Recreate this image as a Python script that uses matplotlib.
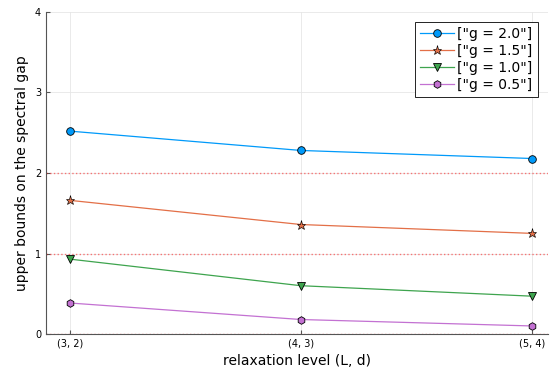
import matplotlib
matplotlib.use("Agg")
import matplotlib.pyplot as plt

levels = ["(3, 2)", "(4, 3)", "(5, 4)"]
labels = ['["g = 2.0"]', '["g = 1.5"]', '["g = 1.0"]', '["g = 0.5"]']
g20 = [2.52, 2.28, 2.18]
g15 = [1.66, 1.36, 1.25]
g10 = [0.93, 0.60, 0.47]
g05 = [0.385, 0.18, 0.10]
hlines = [0, 1, 2]

colors = ["#009AFA", "#E36F47", "#3EA44E", "#C371D2"]
markers = ["o", "*", "v", "h"]
msizes = [5.5, 6.5, 6, 5.5]
mew = [0.6, 0.45, 0.6, 0.6]

fig = plt.figure(figsize=(5.5, 3.71), dpi=100)
ax = fig.add_axes([0.0836, 0.0997, 0.9124, 0.868])
x = [1, 2, 3]
for ys, c, m, ms, ew, lab in zip([g20, g15, g10, g05], colors, markers, msizes, mew, labels):
    ax.plot(x, ys, color=c, marker=m, markersize=ms, markerfacecolor=c,
            markeredgecolor="black", markeredgewidth=ew, linewidth=0.9, label=lab)
for h in hlines:
    ax.axhline(h, color="red", linestyle=":", linewidth=1.0, alpha=0.5, zorder=1)

ax.set_xlim(0.896, 3.069)
ax.set_ylim(0, 4)
ax.set_xticks(x)
ax.set_xticklabels(levels, fontsize=7)
ax.set_yticks([0, 1, 2, 3, 4])
ax.set_yticklabels(["0", "1", "2", "3", "4"], fontsize=7)
ax.grid(True, color="#e6e6e6", linewidth=0.6)
ax.set_axisbelow(True)
for s in ["top", "right"]:
    ax.spines[s].set_visible(False)
for s in ["left", "bottom"]:
    ax.spines[s].set_color("#555555")
ax.tick_params(direction="in", length=3, color="#555555", width=0.8)
ax.set_xlabel("relaxation level (L, d)", fontsize=10)
ax.set_ylabel("upper bounds on the spectral gap", fontsize=10)
leg = ax.legend(loc="upper right", fontsize=10, fancybox=False, framealpha=1,
                edgecolor="black", handlelength=2.4, handletextpad=0.25,
                borderpad=0.4, labelspacing=0.2, borderaxespad=0.7)
leg.get_frame().set_linewidth(0.6)
fig.savefig("out.png", dpi=100)
